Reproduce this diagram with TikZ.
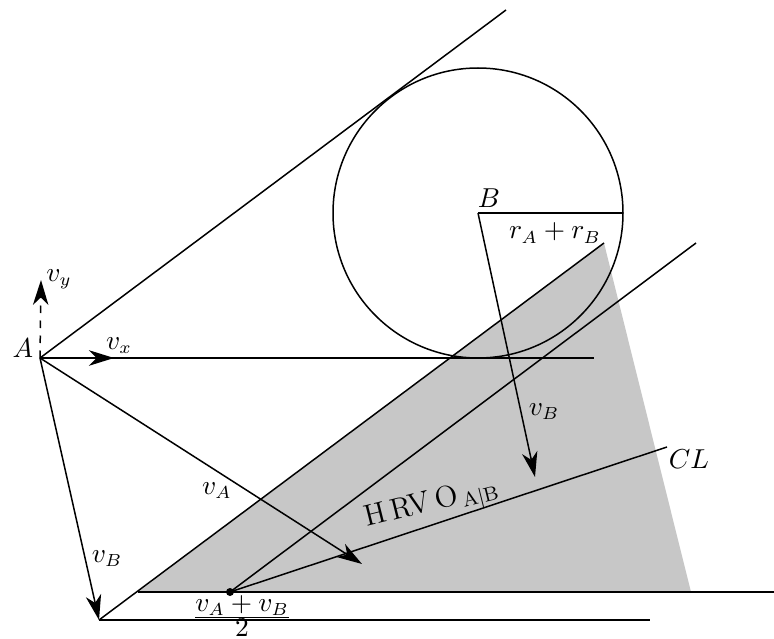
\documentclass[tikz,border=0pt]{standalone}
\usetikzlibrary{arrows.meta}
\begin{document}
\begin{tikzpicture}[x=0.4pt,y=-0.4pt,
  ln/.style={line width=0.6pt},
  vec/.style={ln,-{Stealth[length=10pt,width=6.2pt,inset=3pt]}},
  dvec/.style={vec,dashed},
  lbl/.style={inner sep=0pt,font=\fontsize{10.7pt}{13pt}\selectfont}]
\useasboundingbox (0,0) rectangle (774,639);
% points
\coordinate (A) at (40,358);
\coordinate (B) at (478,213);
\coordinate (Rend) at (623,213);
\coordinate (Hend) at (594,358);
\coordinate (Tend) at (506,10);
\coordinate (VA) at (362,564);
\coordinate (VB) at (99,620);
\coordinate (VBb) at (535,477);
\coordinate (VX) at (114,358);
\coordinate (VY) at (41,280);
\coordinate (H1) at (138,592);
\coordinate (H2) at (604,243);
\coordinate (H3) at (691,592);
\coordinate (Hr) at (774,592);
\coordinate (M) at (230,592);
\coordinate (M2) at (696,243);
\coordinate (CLend) at (667,447);
\coordinate (Bot) at (650,620);
% shaded HRVO
\fill[black!22] (H1) -- (H2) -- (H3) -- cycle;
% circle
\draw[ln] (B) circle (145);
\draw[ln] (B) -- (Rend);
% cone from A
\draw[ln] (A) -- (Hend);
\draw[ln] (A) -- (Tend);
% translated cone edges
\draw[ln] (VB) -- (H2);
\draw[ln] (H1) -- (Hr);
\draw[ln] (VB) -- (Bot);
\draw[ln] (M) -- (M2);
\draw[ln] (M) -- (CLend);
% vectors
\draw[vec] (A) -- (VA);
\draw[vec] (A) -- (VB);
\draw[vec] (B) -- (VBb);
\draw[dvec] (A) -- (VX);
\draw[dvec] (A) -- (VY);
\fill (M) circle (4);
% labels
\node[lbl] (lA) at (23,348) {$A$};
\node[lbl] (lB) at (489,198) {$B$};
\node[lbl] (lr) at (555,233) {$r_A+r_B$};
\node[lbl] (lvx) at (119,346) {$v_x$};
\node[lbl] (lvy) at (59,279) {$v_y$};
\node[lbl] (lva) at (217,491) {$v_A$};
\node[lbl] (lvb1) at (107,559) {$v_B$};
\node[lbl] (lvb2) at (544,412) {$v_B$};
\node[lbl] (lcl) at (689,459) {$CL$};
\node[lbl] (lfr) at (242,616) {$\frac{\textstyle v_A+v_B}{\textstyle 2}$};
\node[lbl,rotate=14] (lh) at (432,505) {\large$\mathrm{H\,RV\,O}_{\,\mathrm{A|B}}$};
\end{tikzpicture}
\end{document}
